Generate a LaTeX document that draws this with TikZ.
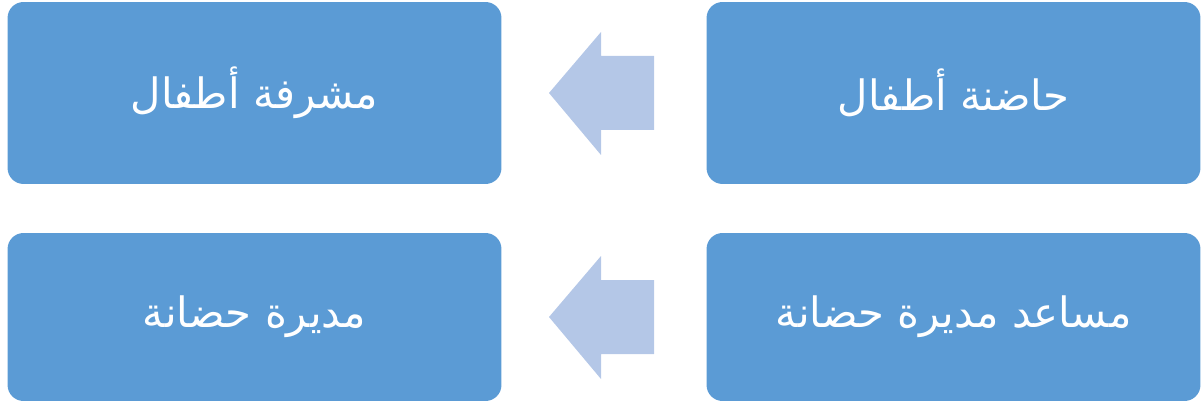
\documentclass[tikz,border=0pt]{standalone}
\usepackage{fontspec}
\newfontfamily\arabicfont[Script=Arabic]{DejaVu Sans}
\TeXXeTstate=1
\definecolor{boxblue}{HTML}{5B9BD5}
\definecolor{arrowblue}{HTML}{B4C7E7}
\tikzset{
  box/.style={fill=boxblue, draw=none, rounded corners=0.32cm, text=white,
    font=\arabicfont\fontsize{23.8}{28}\selectfont, inner sep=0pt},
  leftarrow/.style={fill=arrowblue, draw=none}
}
\begin{document}
\begin{tikzpicture}[x=0.02cm,y=-0.02cm]
\useasboundingbox (0,0) rectangle (1203,405);
% top row
\node[box, minimum width=9.88cm, minimum height=3.64cm] (ml) at (254.5,93) {\beginR مشرفة أطفال\endR};
\node[box, minimum width=9.88cm, minimum height=3.64cm] (hd) at (953.5,93) {\beginR حاضنة أطفال\endR};
% bottom row
\node[box, minimum width=9.88cm, minimum height=3.36cm] (md) at (254.5,317) {\beginR مديرة حضانة\endR};
\node[box, minimum width=9.88cm, minimum height=3.36cm] (ms) at (953.5,317) {\beginR مساعد مديرة حضانة\endR};
% arrows
\fill[leftarrow] (549,93) -- (601,32) -- (601,56) -- (654,56) -- (654,130) -- (601,130) -- (601,155) -- cycle;
\fill[leftarrow] (549,317) -- (601,256) -- (601,280) -- (654,280) -- (654,354) -- (601,354) -- (601,379) -- cycle;
\end{tikzpicture}
\end{document}
